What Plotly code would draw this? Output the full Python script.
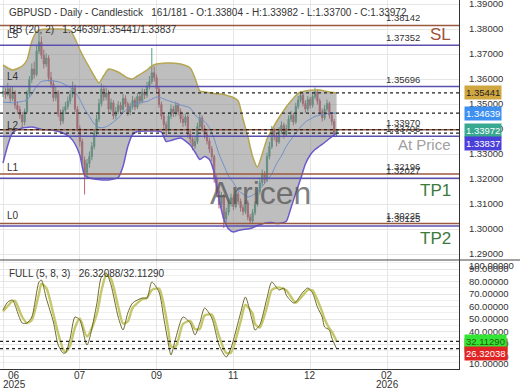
import plotly.graph_objects as go

# ---------------- data ----------------
closes = [1.3550,1.3538,1.3561,1.3522,1.3547,1.3495,1.3478,1.3455,1.3428,1.3470,
          1.3542,1.3598,1.3640,1.3618,1.3712,1.3748,1.3695,1.3660,1.3684,1.3605,
          1.3580,1.3525,1.3548,1.3460,1.3432,1.3475,1.3490,1.3512,1.3538,1.3565,
          1.3480,1.3402,1.3350,1.3275,1.3225,1.3262,1.3290,1.3330,1.3385,1.3440,
          1.3502,1.3560,1.3528,1.3545,1.3480,1.3505,1.3452,1.3470,1.3495,1.3478,
          1.3522,1.3500,1.3468,1.3490,1.3515,1.3488,1.3530,1.3512,1.3548,1.3535,
          1.3570,1.3590,1.3625,1.3605,1.3560,1.3498,1.3452,1.3418,1.3395,1.3452,
          1.3480,1.3462,1.3495,1.3470,1.3440,1.3425,1.3448,1.3380,1.3360,1.3332,
          1.3350,1.3410,1.3445,1.3402,1.3378,1.3352,1.3320,1.3290,1.3200,1.3152,
          1.3098,1.3130,1.3040,1.3068,1.3102,1.3125,1.3090,1.3140,1.3110,1.3085,
          1.3070,1.3105,1.3048,1.3032,1.3065,1.3098,1.3150,1.3185,1.3220,1.3195,
          1.3290,1.3330,1.3395,1.3370,1.3348,1.3392,1.3415,1.3378,1.3402,1.3440,
          1.3455,1.3428,1.3490,1.3515,1.3535,1.3502,1.3480,1.3518,1.3495,1.3530,
          1.3548,1.3512,1.3470,1.3445,1.3480,1.3502,1.3455,1.3430,1.33804,1.33972]
first_open = 1.3545
highs = [1.3572,1.3566,1.3585,1.3570,1.3568,1.3555,1.3510,1.3492,1.3468,1.3482,
         1.3555,1.3612,1.3662,1.3670,1.3735,1.3788,1.3770,1.3718,1.3702,1.3695,
         1.3628,1.3592,1.3570,1.3555,1.3478,1.3490,1.3508,1.3530,1.3555,1.3590,
         1.3578,1.3492,1.3415,1.3362,1.3290,1.3280,1.3310,1.3348,1.3400,1.3458,
         1.3520,1.3582,1.3575,1.3565,1.3556,1.3522,1.3515,1.3488,1.3512,1.3508,
         1.3540,1.3535,1.3510,1.3505,1.3532,1.3526,1.3545,1.3542,1.3562,1.3560,
         1.3588,1.3612,1.3724,1.3650,1.3618,1.3572,1.3510,1.3465,1.3430,1.3468,
         1.3498,1.3492,1.3510,1.3505,1.3482,1.3458,1.3462,1.3458,1.3395,1.3372,
         1.3368,1.3425,1.3462,1.3455,1.3415,1.3390,1.3365,1.3332,1.3298,1.3215,
         1.3165,1.3148,1.3140,1.3085,1.3118,1.3142,1.3138,1.3155,1.3150,1.3122,
         1.3098,1.3118,1.3115,1.3060,1.3080,1.3112,1.3165,1.3200,1.3238,1.3232,
         1.3305,1.3348,1.3412,1.3405,1.3382,1.3408,1.3430,1.3425,1.3418,1.3455,
         1.3472,1.3465,1.3505,1.3532,1.3552,1.3545,1.3515,1.3532,1.3528,1.3545,
         1.3566,1.3560,1.3522,1.3482,1.3495,1.3518,1.3510,1.3468,1.3440,1.33982]
lows = [1.3528,1.3521,1.3530,1.3505,1.3512,1.3480,1.3462,1.3440,1.3402,1.3415,
        1.3462,1.3530,1.3585,1.3602,1.3610,1.3700,1.3680,1.3642,1.3648,1.3590,
        1.3565,1.3510,1.3512,1.3448,1.3415,1.3420,1.3460,1.3478,1.3500,1.3525,
        1.3468,1.3390,1.3330,1.3258,1.3138,1.3205,1.3245,1.3275,1.3318,1.3370,
        1.3428,1.3490,1.3512,1.3515,1.3468,1.3470,1.3438,1.3440,1.3458,1.3462,
        1.3468,1.3488,1.3452,1.3455,1.3478,1.3475,1.3480,1.3498,1.3502,1.3520,
        1.3525,1.3558,1.3580,1.3590,1.3545,1.3485,1.3438,1.3400,1.3370,1.3385,
        1.3440,1.3448,1.3450,1.3455,1.3425,1.3408,1.3412,1.3365,1.3342,1.3315,
        1.3320,1.3340,1.3398,1.3390,1.3362,1.3338,1.3305,1.3272,1.3185,1.3135,
        1.3082,1.3085,1.3004,1.3025,1.3055,1.3090,1.3075,1.3082,1.3098,1.3070,
        1.3055,1.3060,1.3035,1.3020,1.3025,1.3055,1.3090,1.3138,1.3172,1.3180,
        1.3188,1.3278,1.3320,1.3355,1.3330,1.3340,1.3380,1.3362,1.3368,1.3392,
        1.3428,1.3415,1.3420,1.3480,1.3505,1.3490,1.3465,1.3470,1.3482,1.3485,
        1.3520,1.3498,1.3455,1.3430,1.3435,1.3470,1.3442,1.3415,1.3368,1.33700]

bb_idx = [0,4,8,10,12,14,16,20,24,28,30,32,34,36,38,40,42,44,48,50,52,54,56,60,62,64,
          66,68,70,74,78,80,82,84,86,88,90,92,94,96,98,100,102,104,106,108,110,112,114,
          116,118,120,122,124,126,128,130,132,134,136,139]
bb_upper = [1.3656,1.3636,1.3652,1.3676,1.3750,1.3790,1.3798,1.3800,1.3800,1.3794,1.3762,
            1.3718,1.3680,1.3646,1.3612,1.3584,1.3614,1.3640,1.3628,1.3616,1.3604,1.3600,
            1.3612,1.3636,1.3652,1.3660,1.3662,1.3664,1.3664,1.3660,1.3644,1.3604,1.3552,
            1.3548,1.3545,1.3542,1.3540,1.3538,1.3532,1.3526,1.3512,1.3440,1.3370,1.3290,
            1.3248,1.3300,1.3360,1.3396,1.3430,1.3460,1.3488,1.3512,1.3534,1.3548,1.3552,
            1.3555,1.3556,1.3556,1.3552,1.3548,1.35441]
bb_mid = [1.3508,1.3505,1.3510,1.3516,1.3540,1.3572,1.3590,1.3594,1.3586,1.3566,1.3548,
          1.3518,1.3480,1.3450,1.3420,1.3406,1.3406,1.3414,1.3444,1.3465,1.3480,1.3495,
          1.3505,1.3510,1.3520,1.3528,1.3524,1.3516,1.3510,1.3496,1.3484,1.3456,1.3440,
          1.3430,1.3405,1.3360,1.3300,1.3255,1.3212,1.3185,1.3155,1.3140,1.3128,1.3135,
          1.3148,1.3170,1.3195,1.3220,1.3262,1.3292,1.3330,1.3358,1.3384,1.3408,1.3428,
          1.3440,1.3450,1.3456,1.3460,1.3463,1.34639]
bb_lower = [1.3264,1.3385,1.3404,1.3406,1.3408,1.3404,1.3398,1.3396,1.3388,1.3366,1.3340,
            1.3296,1.3215,1.3204,1.3200,1.3198,1.3196,1.3196,1.3206,1.3250,1.3330,1.3378,
            1.3390,1.3392,1.3392,1.3392,1.3388,1.3350,1.3354,1.3364,1.3336,1.3308,1.3278,
            1.3290,1.3278,1.3225,1.3120,1.3040,1.3000,1.2988,1.2994,1.2998,1.3000,1.3005,
            1.3014,1.3020,1.3025,1.3026,1.3022,1.3024,1.3030,1.3085,1.3144,1.3200,1.3260,
            1.3296,1.3318,1.3332,1.3346,1.3362,1.33837]

st_idx = [0,2,4,5,8,10,12,15,16,18,21,23,25,26,28,30,32,35,39,41,43,45,48,50,52,54,58,60,
          62,65,67,69,70,72,75,78,80,82,84,87,90,93,95,99,101,104,105,107,110,112,115,117,
          118,121,122,125,127,129,131,133,134,136,137,139]
st_k = [57.2,63.6,65.2,61.2,46.8,46.8,51.6,79.6,81.2,66.8,47.6,29.2,22.8,22.8,34.8,51.6,
        49.2,29.2,61.2,83.6,86.8,77.2,51.6,41.2,54.8,62.8,66.8,66.8,79.6,71.6,50.8,29.2,
        21.2,34.8,51.6,46.8,37.2,46.8,58.8,50.8,29.2,19.6,26.8,54.8,67.6,47.6,41.2,45.2,
        66.8,79.6,73.2,74.8,69.2,62.8,63.6,71.6,74.8,70.8,59.6,51.6,43.6,41.2,34.8,26.32038]
st_d = [56,60.4,64.4,64.5,51.6,46.8,49.2,70.3,78,75,54,38.4,26,23.5,28.8,43.2,50.4,36,
        53.2,72.4,85.2,82,60,46.4,48,58.8,65.8,66.8,73.2,74.3,61.2,40,28,28,46,48.4,42,42,
        52.8,53.5,36.4,22.8,23.2,47.8,61.2,54.3,46,43.2,59.7,73.2,75.3,74,73,65,63,69,73.2,
        72.8,65.2,55.6,50,42.4,40,32.11290]

price_ticks = [1.29,1.30,1.31,1.32,1.33,1.34,1.35,1.36,1.37,1.38,1.39]
osc_ticks = [20,30,40,50,60,70,80,90]
tick_index = [0,32,64,96,128,160]
month_labels = ["06","07","09","11","12","02"]
year_labels = ["2025","","","","","2026"]

levels = [1.38142,1.37352,1.35696,1.33970,1.33706,1.32196,1.32027,1.30225,1.30125]
level_kind = ["r","p","p","r","p","r","p","r","p"]
dashed_levels = [1.35441,1.34639,1.33972,1.33837]
level_names = ["L5","L4","L2","L1","L0"]
level_name_vals = [1.37352,1.35696,1.33706,1.32027,1.30125]

# ---------------- figure ----------------
W, H = 520, 390
def px(x): return x / W
def py(y): return 1 - y / H

opens = [first_open] + closes[:-1]
idx = list(range(len(closes)))

FONT = "Liberation Sans, Arial, sans-serif"
fig = go.Figure()
fig.add_trace(go.Candlestick(
    x=idx, open=opens, high=highs, low=lows, close=closes,
    increasing=dict(line=dict(color="#4f9e84", width=1), fillcolor="#4f9e84"),
    decreasing=dict(line=dict(color="#c0606e", width=1), fillcolor="#c0606e"),
    whiskerwidth=0, showlegend=False, hoverinfo="skip", xaxis="x", yaxis="y"))
fig.add_trace(go.Scatter(x=bb_idx, y=bb_lower, mode="lines",
                         line=dict(color="#6a5acd", width=1.5, shape="spline", smoothing=0.6),
                         showlegend=False, hoverinfo="skip", xaxis="x", yaxis="y"))
fig.add_trace(go.Scatter(x=bb_idx, y=bb_upper, mode="lines", fill="tonexty",
                         fillcolor="rgba(125,125,125,0.5)",
                         line=dict(color="#b5a650", width=1.5, shape="spline", smoothing=0.6),
                         showlegend=False, hoverinfo="skip", xaxis="x", yaxis="y"))
fig.add_trace(go.Scatter(x=bb_idx, y=bb_mid, mode="lines",
                         line=dict(color="#6f8fc8", width=1, shape="spline", smoothing=0.6),
                         showlegend=False, hoverinfo="skip", xaxis="x", yaxis="y"))
fig.add_trace(go.Scatter(x=st_idx, y=st_d, mode="lines",
                         line=dict(color="#c4c86a", width=2.4, shape="spline", smoothing=0.7),
                         showlegend=False, hoverinfo="skip", xaxis="x2", yaxis="y2"))
fig.add_trace(go.Scatter(x=st_idx, y=st_k, mode="lines",
                         line=dict(color="#6f6a2e", width=1, shape="spline", smoothing=0.7),
                         showlegend=False, hoverinfo="skip", xaxis="x2", yaxis="y2"))

shapes = []
for v, k in zip(levels, level_kind):
    col = "#9a5a40" if k == "r" else "#5a50b0"
    shapes.append(dict(type="line", xref="x domain", yref="y", x0=0, x1=1, y0=v, y1=v,
                       line=dict(color=col, width=1.5)))
for v in dashed_levels:
    shapes.append(dict(type="line", xref="x domain", yref="y", x0=0, x1=1, y0=v, y1=v,
                       line=dict(color="#222", width=1.3, dash="3px,3px")))
for v in [st_k[-1], st_d[-1]]:
    shapes.append(dict(type="line", xref="x2 domain", yref="y2", x0=0, x1=1, y0=v, y1=v,
                       line=dict(color="#222", width=1.3, dash="3px,3px")))
shapes.append(dict(type="line", xref="paper", yref="paper", x0=0, x1=1, y0=py(260), y1=py(260),
                   line=dict(color="#444", width=1)))

ann = []
def A(text, x, y, xref="paper", yref="paper", size=10, color="#333", xanchor="left",
      yanchor="middle", **kw):
    ann.append(dict(text=text, x=x, y=y, xref=xref, yref=yref, showarrow=False,
                    font=dict(family=FONT, size=size, color=color), xanchor=xanchor,
                    yanchor=yanchor, **kw))

sp = "\u00a0"
A("GBPUSD - Daily - Candlestick" + sp*3 + "161/181 - O:1.33804 - H:1.33982 - L:1.33700 - C:1.33972",
  px(7), py(12))
A("BB (20, 2)" + sp*3 + "1.34639/1.35441/1.33837", px(7), py(30))
A("FULL (5, 8, 3)" + sp*3 + "26.32088/32.11290", px(7), py(273))

for v in levels:
    A(f"{v:.5f}", px(384), v, yref="y", size=9.5, yanchor="bottom")
for n, v in zip(level_names, level_name_vals):
    A(n, px(5), v, yref="y", size=10, yanchor="bottom", yshift=3)

A("SL", px(453), levels[1], yref="y", size=17, color="#a0523a", xanchor="right", yanchor="bottom", yshift=-1)
A("At Price", px(453), levels[4], yref="y", size=15, color="#a0a0a0", xanchor="right", yanchor="top", yshift=2)
A("TP1", px(453), levels[6], yref="y", size=17, color="#3c7a3c", xanchor="right", yanchor="top", yshift=-1)
A("TP2", px(453), levels[8], yref="y", size=17, color="#3c7a3c", xanchor="right", yanchor="top", yshift=-1)
A("Arricen", px(260), py(193), size=32, color="#555", xanchor="center", opacity=0.75)

# right axis value boxes
def box(text, y, yref, bg, fg, yshift=0):
    ann.append(dict(text=text, x=px(464), y=y, xref="paper", yref=yref, showarrow=False,
                    font=dict(family=FONT, size=9.5, color=fg), xanchor="left", yanchor="middle",
                    bgcolor=bg, borderpad=1, yshift=yshift))

box(f"{bb_upper[-1]:.5f}", bb_upper[-1], "y", "#d0a640", "#222")
box(f"{bb_mid[-1]:.5f}", bb_mid[-1], "y", "#3d8ff0", "#fff")
box(f"{closes[-1]:.5f}", closes[-1], "y", "#38a890", "#fff", yshift=-1)
box(f"{bb_lower[-1]:.5f}", bb_lower[-1], "y", "#4a3fd8", "#fff", yshift=-10)

A("100.00000", px(467), py(265), size=9.5)
A("10.00000", px(467), py(363), size=9.5)
box(sp * 15, 29.0, "y2", "#7a7a18", "#7a7a18")
box(f"{st_d[-1]:.5f}", st_d[-1], "y2", "#33e633", "#2a5a10")
box(f"{st_k[-1]:.5f}", st_k[-1], "y2", "#e02424", "#fff", yshift=-5)

for i, (m, yr) in enumerate(zip(month_labels, year_labels)):
    xs = 11 if i == 0 else 0
    A(m, tick_index[i], py(375), xref="x2", size=10, xanchor="center", xshift=xs)
    if yr:
        A(yr, tick_index[i], py(384), xref="x2", size=10, xanchor="center", xshift=xs)

xr = [-1.25, 190]
axis_font = dict(family=FONT, size=9.5, color="#333")
fig.update_layout(
    width=W, height=H, margin=dict(l=0, r=0, t=0, b=0),
    paper_bgcolor="white", plot_bgcolor="white", showlegend=False,
    xaxis=dict(domain=[0, px(459)], range=xr, anchor="y", tickvals=tick_index,
               showticklabels=False, showgrid=True, gridcolor="#e6e6e6", zeroline=False,
               rangeslider=dict(visible=False), ticks=""),
    xaxis2=dict(domain=[0, px(459)], range=xr, anchor="y2", tickvals=tick_index,
                showticklabels=False, showgrid=True, gridcolor="#e6e6e6", zeroline=False,
                showline=True, linecolor="#333", linewidth=1, ticks=""),
    yaxis=dict(domain=[py(260), 1], range=[1.2876, 1.3916], side="right", tickvals=price_ticks,
               tickformat=".5f", tickfont=axis_font, showgrid=True, gridcolor="#e6e6e6",
               zeroline=False, showline=True, linecolor="#333", linewidth=1, ticks="",
               ticklabelstandoff=7, ticklabeloverflow="allow", automargin=False),
    yaxis2=dict(domain=[py(369), py(260)], range=[10, 97.2], side="right", tickvals=osc_ticks,
                tickformat=".5f", tickfont=axis_font, showgrid=True, gridcolor="#e6e6e6",
                minor=dict(dtick=5, showgrid=True, gridcolor="#f0f0f0"),
                zeroline=False, showline=True, linecolor="#333", linewidth=1, ticks="",
                ticklabelstandoff=7, ticklabeloverflow="allow", automargin=False),
    shapes=shapes, annotations=ann,
)
fig.write_html("out.html", config={"displayModeBar": False},
               post_script="document.body.style.margin='0';document.body.style.padding='0';"
                           "document.body.style.overflow='hidden';")
